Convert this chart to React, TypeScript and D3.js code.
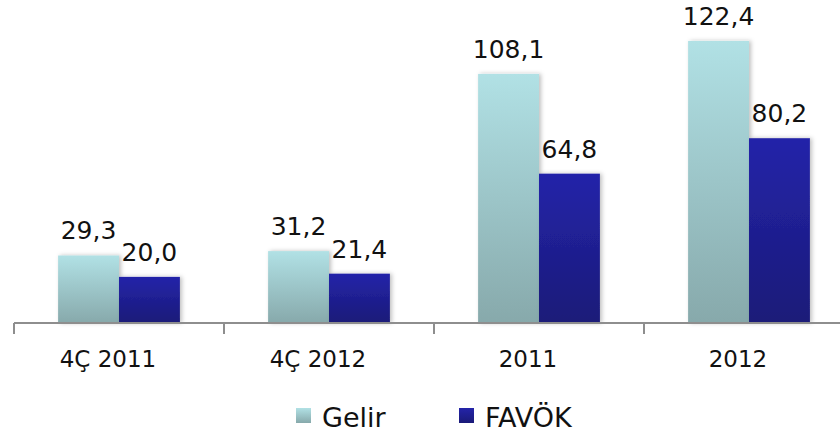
import { useMemo } from 'react'
import * as d3 from 'd3'

const WIDTH = 840
const HEIGHT = 434

const categories = ['4Ç 2011', '4Ç 2012', '2011', '2012']
const seriesNames = ['Gelir', 'FAVÖK']
const gelir = [29.3, 31.2, 108.1, 122.4]
const favok = [20.0, 21.4, 64.8, 80.2]

const gradients = [
  { id: 'grad-gelir', top: '#b1e1e5', bottom: '#87a9ab' },
  { id: 'grad-favok', top: '#2424a9', bottom: '#1a1a78' },
]

const fmt = (v: number) => v.toFixed(1).replace('.', ',')

export default function App() {
  const axisY = 323

  const x0 = useMemo(
    () => d3.scaleBand<string>().domain(categories).range([14, 854]).paddingInner(0.42).paddingOuter(0.21),
    []
  )
  const x1 = useMemo(
    () => d3.scaleBand<string>().domain(seriesNames).range([0, x0.bandwidth()]),
    [x0]
  )
  const y = useMemo(() => d3.scaleLinear().domain([0, 140]).range([axisY, 0.4]), [])

  const values = [gelir, favok]
  const step = x0.step()

  return (
    <svg
      width={WIDTH}
      height={HEIGHT}
      style={{ position: 'absolute', left: 0, top: 0, fontFamily: 'DejaVu Sans, Verdana, sans-serif' }}
    >
      <defs>
        {gradients.map((g) => (
          <linearGradient key={g.id} id={g.id} x1="0" y1="0" x2="0" y2="1">
            <stop offset="0%" stopColor={g.top} />
            <stop offset="100%" stopColor={g.bottom} />
          </linearGradient>
        ))}
        <filter id="shadow" x="-20%" y="-20%" width="140%" height="140%">
          <feDropShadow dx="2" dy="0" stdDeviation="2" floodColor="#000" floodOpacity="0.25" />
        </filter>
      </defs>

      {categories.map((c, ci) =>
        seriesNames.map((s, si) => {
          const v = values[si][ci]
          const bx = (x0(c) ?? 0) + (x1(s) ?? 0)
          const by = y(v)
          return (
            <rect
              key={c + s}
              x={bx}
              y={by}
              width={x1.bandwidth()}
              height={axisY - by}
              fill={`url(#${gradients[si].id})`}
              filter="url(#shadow)"
            />
          )
        })
      )}

      {/* axis */}
      <line x1={14} x2={WIDTH} y1={axisY} y2={axisY} stroke="#8e8e8e" strokeWidth={2} />
      {categories.map((c) => {
        const tx = (x0(c) ?? 0) - x0.step() * 0.21
        return <line key={'t' + c} x1={tx} x2={tx} y1={axisY} y2={axisY + 11} stroke="#8e8e8e" strokeWidth={2} />
      })}

      {categories.map((c) => (
        <text
          key={'c' + c}
          x={(x0(c) ?? 0) + x0.bandwidth() / 2 - 11}
          y={367}
          textAnchor="middle"
          fontSize={23}
          fill="#111"
        >
          {c}
        </text>
      ))}

      {categories.map((c, ci) =>
        seriesNames.map((s, si) => {
          const v = values[si][ci]
          const cx = (x0(c) ?? 0) + (x1(s) ?? 0) + x1.bandwidth() / 2
          return (
            <text key={'v' + c + s} x={cx} y={y(v) - 16} textAnchor="middle" fontSize={25} fill="#111">
              {fmt(v)}
            </text>
          )
        })
      )}

      {/* legend */}
      {seriesNames.map((s, si) => {
        const lx = 296 + si * 163
        return (
          <g key={'l' + s}>
            <rect x={lx} y={408} width={15} height={15} fill={`url(#${gradients[si].id})`} />
            <text x={lx + 26} y={427} fontSize={27} fill="#111">
              {s}
            </text>
          </g>
        )
      })}
      {step > 0 ? null : null}
    </svg>
  )
}
